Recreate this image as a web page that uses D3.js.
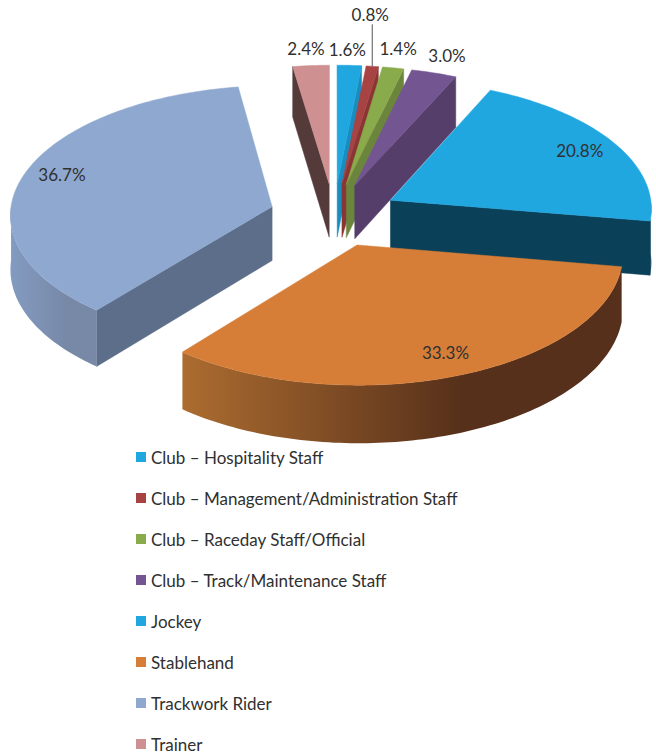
<!DOCTYPE html>
<html><head><meta charset="utf-8">
<script src="https://cdn.jsdelivr.net/npm/d3@7"></script>
<style>html,body{margin:0;background:#fff}svg{display:block}text{font-family:Lato,"Open Sans",sans-serif;fill:#303030}</style>
</head><body><svg id="c" width="656" height="755"></svg>
<script>
const categories=["Club – Hospitality Staff","Club – Management/Administration Staff","Club – Raceday Staff/Official","Club – Track/Maintenance Staff","Jockey","Stablehand","Trackwork Rider","Trainer"];
const values=[1.6,0.8,1.4,3.0,20.8,33.3,36.7,2.4];
const topColors=["#21A7E0","#A84343","#8AAB4B","#735592","#21A7E0","#D67E38","#8FA8CF","#CE9090"];
const faceColors=["#1A8DC0","#8A3434","#6C853C","#553E69","#0B4059","#56301A","#5C6E89","#553A3A"];
const rimLight=["#21A7E0","#A84343","#8AAB4B","#735592","#0B4059","#AC6C30","#839BC1","#CE9090"];
const rimDark=["#1A8DC0","#8A3434","#6C853C","#553E69","#0B4059","#56301A","#7889A8","#553A3A"];
const labelShift=[[-2,-16],[-2,-52],[5,-19],[13,-17],[-33,9],[-12,-23],[37,1],[-5,-17]];
const leaderFor=["Club – Management/Administration Staff"];

// Pie geometry (pixels)
const R=262,EXPLODE=64.4,DEPTH=54,CX=334,CY=215,PERSP=4634,CAM=2277;
const project=(X,Y,z=0)=>{const s=PERSP/(PERSP+Y);return [CX+X*s,CY+CAM*(s-1)+z*s];};
const polar=(r,a)=>[r*Math.sin(a),r*Math.cos(a)];

const svg=d3.select("#c"),defs=svg.append("defs");
const fmt=d3.format(".1f");
const pie=d3.pie().sort(null).startAngle(0).endAngle(2*Math.PI).value(d=>d.v);
const arcs=pie(categories.map((c,i)=>({c,v:values[i],i})));
const line=d3.line();
const samples=(a0,a1)=>{const n=Math.max(3,Math.ceil((a1-a0)/0.02));return d3.range(n+1).map(k=>a0+(a1-a0)*k/n);};

const slices=arcs.map(d=>{
  const b=(d.startAngle+d.endAngle)/2,[tx,ty]=polar(EXPLODE,b);
  const rim=a=>{const[p,q]=polar(R,a);return[tx+p,ty+q];};
  return {...d,b,tx,ty,rim,i:d.data.i};
}).sort((a,b)=>b.ty-a.ty);

const g=svg.append("g");
slices.forEach(s=>{
  const P=(w,z)=>project(w[0],w[1],z);
  const face=a=>{const t=[s.tx,s.ty],r=s.rim(a);
    g.append("path").attr("d",line([P(t,0),P(r,0),P(r,DEPTH),P(t,DEPTH)])+"Z")
     .attr("fill",faceColors[s.i]).attr("stroke",faceColors[s.i]).attr("stroke-width",0.5);};
  if(Math.sin(s.startAngle)<-1e-6) face(s.startAngle);
  if(Math.sin(s.endAngle)>1e-6) face(s.endAngle);
  const lo=Math.max(s.startAngle,Math.PI/2),hi=Math.min(s.endAngle,3*Math.PI/2);
  if(hi>lo){
    const as=samples(lo,hi),top=as.map(a=>P(s.rim(a),0)),bot=as.map(a=>P(s.rim(a),DEPTH)).reverse();
    const xs=top.map(p=>p[0]),id="rim"+s.i,x0=d3.min(xs),x1=d3.max(xs);
    const gr=defs.append("linearGradient").attr("id",id).attr("gradientUnits","userSpaceOnUse")
      .attr("x1",x0).attr("x2",x1).attr("y1",0).attr("y2",0);
    gr.append("stop").attr("offset",0).attr("stop-color",rimLight[s.i]);
    gr.append("stop").attr("offset",0.64).attr("stop-color",rimDark[s.i]);
    gr.append("stop").attr("offset",1).attr("stop-color",rimDark[s.i]);
    g.append("path").attr("d",line(top.concat(bot))+"Z").attr("fill",`url(#${id})`);
  }
  const outline=[[s.tx,s.ty]].concat(samples(s.startAngle,s.endAngle).map(s.rim)).map(w=>P(w,0));
  g.append("path").attr("d",line(outline)+"Z").attr("fill",topColors[s.i]).attr("stroke",topColors[s.i]).attr("stroke-width",0.5);
});

// Data labels
slices.slice().sort((a,b)=>a.i-b.i).forEach(s=>{
  const [x,y]=project(...s.rim(s.b),0),[dx,dy]=labelShift[s.i];
  if(leaderFor.includes(s.data.c)){
    svg.append("line").attr("x1",x).attr("x2",x).attr("y1",y+dy+10).attr("y2",y).attr("stroke","#555").attr("stroke-width",1);
  }
  svg.append("text").attr("x",x+dx).attr("y",y+dy).attr("text-anchor","middle").attr("dominant-baseline","central")
    .attr("font-size",17).text(fmt(s.data.v)+"%");
});

// Legend
const rowY=d3.scalePoint().domain(categories).range([457,744]);
const lg=svg.append("g").selectAll("g").data(categories).join("g").attr("transform",d=>`translate(136,${rowY(d)})`);
lg.append("rect").attr("x",0).attr("y",-5).attr("width",10).attr("height",10).attr("fill",(d,i)=>topColors[i]);
lg.append("text").attr("x",15).attr("y",0).attr("dominant-baseline","central").attr("font-size",17).text(d=>d);
</script></body></html>
